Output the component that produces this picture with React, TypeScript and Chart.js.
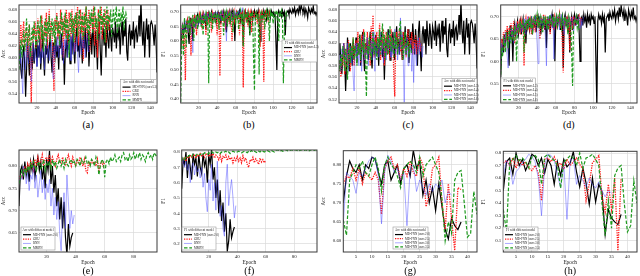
import React, { useEffect, useRef } from "react";
import { Chart, registerables } from "chart.js";
Chart.register(...registerables);

// ---------- data ----------
// (a)/(c) black: MD-FNN (ours L3) accuracy per epoch
const blackAcc = [
  .60,.62,.58,.565,.60,.62,.59,.535,.58,.63,.60,.57,.62,.60,.58,.625,.59,.61,.63,.585,
  .62,.60,.635,.58,.61,.64,.60,.57,.62,.605,.63,.59,.615,.64,.60,.575,.625,.61,.60,.635,
  .60,.62,.58,.63,.615,.64,.595,.62,.555,.61,.63,.60,.645,.62,.59,.635,.605,.64,.615,.59,
  .63,.65,.61,.625,.60,.645,.62,.59,.64,.615,.65,.60,.63,.645,.585,.62,.64,.605,.655,.63,
  .60,.645,.62,.58,.64,.66,.61,.57,.635,.65,.62,.645,.60,.66,.63,.615,.655,.635,.61,.65,
  .64,.625,.66,.615,.645,.635,.655,.605,.64,.66,.62,.65,.635,.665,.61,.595,.64,.655,.62,.645,
  .63,.66,.615,.645,.65,.625,.64,.67,.635,.695,.645,.62,.66,.60,.64,.665,.63,.655,.60,.655,
  .66,.655,.64,.62,.655,.63,.575,
];
const redAccA = [
  .60,.63,.655,.62,.645,.66,.61,.64,.65,.60,.63,.655,.58,.525,.62,.65,.635,.66,.615,.645,
  .665,.63,.65,.61,.67,.64,.62,.66,.635,.675,.615,.65,.68,.63,.66,.64,.60,.545,.665,.645,
  .675,.63,.66,.615,.68,.645,.665,.60,.67,.635,.68,.65,.62,.675,.655,.63,.68,.64,.665,.61,
  .675,.65,.685,.62,.66,.68,.64,.67,.595,.675,.65,.685,.63,.665,.68,.61,.66,.675,.645,.685,
  .62,.67,.655,.60,.68,.64,.665,.685,.63,.67,.65,.68,.625,.665,.68,.645,.67,
];
const blueAccA = [
  .61,.59,.62,.57,.54,.60,.615,.58,.625,.60,.59,.62,.605,.56,.61,.625,.595,.615,.60,.585,
  .62,.60,.63,.59,.615,.60,.625,.58,.61,.635,.60,.62,.595,.61,.63,.605,.565,.62,.60,.625,
  .61,.635,.60,.62,.64,.605,.625,.59,.63,.615,.64,.60,.625,.61,.635,.595,.62,.64,.605,.625,
  .61,.635,.60,.575,.62,.64,.605,.63,.615,.635,.60,.625,.64,.61,.63,
];
const greenAccA = [
  .58,.61,.63,.60,.625,.645,.61,.635,.665,.62,.64,.655,.60,.63,.65,.625,.66,.635,.615,.645,
  .66,.625,.65,.67,.63,.655,.61,.645,.665,.62,.66,.64,.67,.625,.65,.665,.635,.66,.62,.655,
  .67,.64,.66,.62,.655,.675,.635,.66,.645,.675,.63,.665,.65,.60,.66,.675,.64,.665,.625,.67,
  .655,.675,.635,.665,.68,.64,.66,.675,.63,.67,.655,.685,.645,.665,.62,.675,.655,.68,.64,.67,
  .685,.65,.665,.63,.675,.66,.685,.64,.67,.655,.68,.625,.665,.685,.645,.67,.66,.68,.635,.665,
  .68,.655,.67,.685,.64,.665,.68,.65,.675,.66,.685,.645,.67,.675,.665,
];

// (b)/(d) black: MD-FNN (ours L3) F1 per epoch
const blackF1 = [
  .565,.62,.65,.62,.66,.64,.655,.67,.63,.59,.68,.65,.665,.60,.67,.685,.655,.675,.69,.66,
  .675,.69,.66,.68,.695,.665,.685,.64,.69,.675,.695,.67,.685,.70,.66,.69,.68,.695,.665,.69,
  .70,.675,.69,.66,.695,.68,.70,.67,.69,.63,.695,.68,.70,.665,.69,.705,.675,.695,.60,.69,
  .70,.68,.695,.705,.67,.69,.70,.585,.695,.705,.68,.70,.665,.695,.62,.685,.70,.67,.695,.705,
  .68,.70,.69,.705,.67,.60,.695,.70,.68,.705,.69,.70,.675,.705,.69,.70,.68,.705,.695,.70,
  .685,.70,.60,.50,.69,.705,.695,.70,.685,.705,.69,.70,.62,.695,.70,.705,.69,.71,.70,.695,
  .71,.70,.715,.69,.705,.71,.695,.72,.70,.725,.71,.70,.715,.69,.71,.70,.68,.715,.705,.695,
  .71,.70,.72,.695,.70,.69,.70,
];
const redF1B = [
  .60,.64,.66,.58,.62,.465,.65,.67,.63,.66,.68,.55,.66,.675,.64,.69,.66,.62,.685,.67,
  .69,.66,.68,.64,.69,.67,.695,.62,.68,.70,.66,.69,.675,.63,.695,.68,.70,.665,.69,.62,
  .68,.70,.48,.66,.69,.70,.675,.695,.64,.70,.68,.695,.66,.70,.685,.60,.695,.705,.67,.69,
  .70,.68,.69,.62,.70,.685,.695,.44,.68,.70,.675,.695,.65,.70,.685,.70,.63,.695,.70,.68,
  .695,.70,.66,.69,.70,.58,.685,.70,.675,.46,.69,.70,.68,.695,.665,.70,.69,
];
const blueF1B = [
  .61,.64,.66,.63,.65,.67,.64,.66,.63,.675,.65,.66,.62,.56,.665,.68,.645,.67,.685,.655,
  .68,.66,.69,.665,.685,.695,.67,.69,.66,.695,.68,.70,.67,.69,.695,.68,.70,.665,.69,.70,
  .68,.695,.70,.67,.69,.705,.68,.695,.66,.60,.70,.685,.695,.705,.67,.69,.70,.68,.705,.69,
  .70,.685,.705,.69,.71,.70,.715,.70,
];
const greenF1B = [
  .39,.58,.66,.55,.68,.64,.58,.67,.65,.685,.62,.675,.66,.69,.60,.68,.665,.69,.64,.685,
  .67,.69,.65,.685,.62,.69,.675,.695,.66,.685,.455,.69,.675,.70,.64,.685,.695,.66,.69,.68,
  .695,.64,.69,.70,.67,.685,.62,.695,.68,.70,.65,.69,.70,.66,.695,.685,.63,.70,.69,.665,
  .695,.70,.64,.69,.705,.67,.695,.58,.70,.685,.695,.66,.70,.69,.62,.70,.685,.695,.55,.43,
  .69,.70,.675,.695,.485,.69,.70,.665,.695,.70,.64,.69,.705,.68,.695,.60,.70,.685,.70,.66,
  .695,.70,.68,.705,.69,.60,.70,.69,.705,.68,.455,.62,.69,.70,.685,
];

const redAccC = [
  .57,.59,.56,.60,.58,.62,.565,.60,.61,.58,.625,.595,.57,.615,.60,.63,.58,.61,.625,.59,
  .64,.60,.62,.585,.635,.61,.645,.59,.62,.60,.64,.605,.625,.58,.65,.61,.67,.595,.63,.615,
  .64,.60,.625,.655,.59,.63,.61,.645,.58,.62,.64,.60,.635,.615,.59,.645,.61,.63,.56,.525,
  .62,.64,.60,.63,.645,.605,.625,.59,.64,.61,.63,.595,.62,.645,.60,.63,.615,.64,.60,.625,
  .61,.635,.60,.625,.615,.63,.605,.62,
];
const blueAccC = [
  .58,.60,.57,.61,.595,.62,.58,.605,.59,.62,.57,.60,.615,.585,.61,.56,.535,.60,.62,.59,
  .61,.58,.625,.60,.57,.615,.635,.59,.61,.60,.63,.58,.615,.60,.625,.59,.64,.605,.57,.62,
  .60,.63,.595,.615,.64,.60,.62,.585,.63,.61,.59,.625,.605,.64,.615,.595,.63,.60,.62,.645,
  .60,.625,.59,.615,.60,.665,.61,.635,.59,.515,.62,.60,.63,.58,.615,.60,.625,.57,.61,.55,
  .62,.60,.58,.615,.63,.60,.62,.61,.595,.615,
];
const greenAccC = [
  .59,.57,.60,.58,.615,.60,.57,.61,.59,.555,.60,.62,.585,.61,.60,.63,.59,.615,.60,.58,
  .62,.60,.635,.59,.61,.625,.60,.64,.585,.525,.615,.60,.63,.605,.59,.62,.64,.60,.625,.61,
  .59,.63,.61,.645,.60,.625,.655,.61,.635,.59,.62,.64,.60,.625,.65,.605,.63,.615,.595,.64,
  .61,.63,.60,.625,.645,.66,.61,.63,.59,.62,.64,.60,.615,.625,.595,.62,.61,.60,
];

const redF1D = [
  .62,.65,.64,.665,.63,.67,.655,.68,.64,.675,.66,.685,.65,.67,.69,.64,.68,.665,.69,.67,
  .685,.66,.69,.675,.695,.59,.68,.695,.67,.69,.70,.675,.69,.66,.695,.68,.70,.665,.69,.705,
  .68,.695,.65,.70,.685,.69,.705,.67,.695,.685,.70,.675,.695,.66,.70,.685,.695,.67,.70,.69,
  .68,.70,.69,.705,.675,.695,.64,.575,.69,.70,.685,.695,.67,.70,.625,.69,.70,.68,.695,.685,
  .70,.68,.695,.69,.70,.685,.695,.69,
];
const blueF1D = [
  .60,.64,.62,.655,.64,.665,.63,.61,.585,.66,.645,.675,.655,.67,.64,.68,.665,.685,.66,.68,
  .67,.69,.665,.685,.67,.695,.68,.66,.69,.70,.675,.69,.68,.70,.665,.695,.685,.70,.675,.64,
  .595,.69,.70,.68,.695,.675,.70,.685,.65,.59,.695,.70,.68,.69,.705,.675,.695,.605,.69,.70,
  .68,.695,.70,.67,.69,.705,.68,.695,.66,.70,.685,.695,.675,.70,.69,.68,.695,.70,.665,.69,
  .70,.68,.695,.69,.70,.675,.695,.68,.69,.70,
];
const greenF1D = [
  .57,.63,.61,.65,.64,.62,.665,.65,.63,.67,.655,.64,.675,.66,.645,.68,.665,.60,.675,.685,
  .665,.69,.675,.68,.695,.62,.685,.69,.67,.695,.68,.70,.675,.69,.66,.695,.70,.68,.69,.705,
  .675,.695,.68,.70,.69,.665,.70,.685,.695,.68,.70,.67,.695,.705,.68,.69,.70,.675,.695,.685,
  .70,.68,.695,.705,.69,.675,.70,.685,.695,.70,.68,.695,.66,.70,.69,.685,.62,.545,.68,.695,
  .69,.70,.675,.69,.67,
];

const blackAccE = [
  .71,.79,.80,.77,.81,.78,.80,.765,.81,.79,.815,.775,.80,.82,.79,.81,.77,.80,.75,.815,
  .79,.834,.76,.80,.74,.78,.71,.75,.68,.73,.66,.72,.64,.60,.67,.62,.64,.65,
];
const redAccE = [
  .77,.78,.775,.79,.80,.785,.805,.795,.81,.80,.79,.815,.80,.82,.805,.81,.825,.80,.815,.82,
  .81,.825,.805,.82,.81,.80,.815,.825,.81,.805,.82,.81,.80,.815,.825,.81,.80,.82,.81,.80,
  .815,.805,.82,.81,.80,.815,.79,.785,.81,.80,.815,.805,.81,.80,.815,.79,.805,.81,.80,.81,
];
const blueAccE = [
  .76,.78,.77,.80,.79,.76,.785,.745,.78,.77,.80,.75,.78,.73,.76,.79,.74,.77,.725,.76,
  .74,.77,.71,.75,.69,.73,.68,.72,.65,.61,.70,.74,.66,.78,.72,.66,.70,.67,.69,
];
const greenAccE = [
  .76,.775,.79,.78,.795,.785,.80,.79,.805,.795,.81,.80,.79,.805,.81,.795,.80,.815,.79,.805,
  .80,.81,.795,.815,.80,.81,.795,.805,.815,.80,.81,.795,.815,.805,.80,.81,.815,.805,.81,.80,
  .815,.81,.80,.815,.805,.81,.82,.805,.81,.80,.815,.81,.80,.82,.81,.78,.80,.815,.81,.775,
  .81,.815,.805,.82,.81,.815,.825,.81,.815,.82,.81,.825,.83,.815,.82,.81,.825,.815,.82,.83,
  .815,.825,.82,.83,.815,.825,.82,.81,.825,.83,.82,.825,.815,.83,.825,.82,
];

const blackF1F = [
  .56,.75,.72,.80,.63,.78,.70,.62,.79,.72,.76,.64,.78,.70,.66,.79,.71,.75,.60,.78,
  .72,.82,.62,.70,.50,.62,.40,.55,.35,.47,.28,.40,.15,.22,.36,.24,.28,.31,
];
const redF1F = [
  .73,.75,.76,.74,.77,.76,.78,.765,.77,.785,.76,.78,.77,.79,.775,.78,.765,.79,.78,.77,
  .785,.775,.79,.76,.78,.77,.75,.78,.74,.77,.76,.78,.745,.77,.75,.765,.73,.76,.745,.77,
  .74,.76,.73,.775,.745,.76,.72,.70,.75,.74,.765,.73,.755,.74,.72,.76,.735,.75,.73,.745,
];
const blueF1F = [
  .72,.75,.70,.74,.68,.72,.60,.70,.73,.65,.71,.67,.69,.63,.70,.57,.66,.50,.41,.62,
  .55,.72,.48,.60,.42,.74,.50,.38,.45,.30,.25,.60,.72,.45,.55,.62,.50,.37,.45,
];
const greenF1F = [
  .74,.76,.75,.77,.765,.775,.78,.77,.785,.78,.775,.79,.785,.78,.79,.785,.795,.79,.785,.795,
  .79,.80,.795,.79,.80,.795,.80,.79,.80,.795,.80,.805,.795,.80,.79,.80,.805,.80,.795,.80,
  .805,.80,.795,.80,.805,.80,.795,.805,.80,.81,.80,.805,.80,.795,.805,.80,.81,.805,.80,.805,
  .81,.805,.80,.81,.805,.80,.81,.815,.81,.805,.81,.805,.81,.815,.81,.805,.81,.815,.81,.81,
  .815,.81,.805,.81,.815,.81,.81,.815,.81,.805,.81,.815,.81,.81,.815,.81,
];

const blackAccG = [
  .70,.77,.81,.79,.78,.80,.76,.80,.79,.82,.815,.78,.75,.80,.81,.76,.78,.80,.75,.79,
  .80,.77,.838,.79,.81,.72,.76,.70,.74,.68,.75,.69,.63,.605,.66,.64,.63,.65,
];
const redAccG = [
  .75,.77,.765,.79,.76,.79,.75,.78,.77,.76,.78,.76,.67,.79,.81,.82,.79,.80,.76,.79,
  .77,.81,.78,.77,.82,.80,.69,.72,.79,.80,.82,.70,.63,.75,.66,.575,.74,.735,
];
const blueAccG = [
  .645,.78,.77,.76,.725,.78,.77,.79,.81,.82,.815,.77,.645,.78,.825,.81,.78,.79,.76,.78,
  .64,.79,.80,.73,.76,.74,.72,.75,.73,.75,.74,.76,.70,.73,.72,
];
const greenAccG = [
  .655,.615,.76,.78,.80,.79,.81,.78,.77,.80,.82,.79,.73,.80,.82,.80,.79,.77,.74,.79,
  .80,.81,.80,.78,.82,.77,.80,.81,.82,.80,.78,.71,.60,.65,.62,.76,.78,.785,.70,.61,
  .62,.73,.67,
];

const blackF1H = [
  .50,.73,.76,.63,.80,.70,.75,.66,.72,.79,.77,.70,.76,.64,.75,.70,.55,.73,.62,.75,
  .69,.72,.81,.65,.53,.68,.56,.39,.60,.41,.55,.49,.15,.35,.28,.25,.23,.31,
];
const redF1H = [
  .72,.74,.70,.76,.68,.75,.70,.73,.68,.66,.70,.64,.42,.75,.76,.73,.77,.70,.72,.67,
  .75,.70,.73,.76,.71,.67,.42,.55,.72,.75,.78,.45,.33,.55,.35,.60,.02,.60,
];
const blueF1H = [
  .62,.74,.70,.55,.65,.68,.72,.75,.79,.77,.73,.60,.30,.70,.79,.78,.74,.63,.52,.72,
  .27,.74,.76,.55,.62,.58,.53,.60,.55,.52,.57,.50,.45,.50,.48,
];
const greenF1H = [
  .35,.17,.72,.75,.78,.74,.76,.73,.68,.77,.78,.75,.55,.77,.79,.76,.74,.70,.52,.73,
  .75,.78,.76,.70,.80,.68,.76,.77,.79,.75,.70,.40,.14,.42,.20,.62,.68,.70,.40,.17,
  .22,.58,.40,
];

// ---------- ticks & labels ----------
const epochTicksLong = [20, 40, 60, 80, 100, 120, 140];
const epochTicksMid = [20, 40, 60, 80];
const epochTicksShort = [5, 10, 15, 20, 25, 30, 35, 40];
const accTicksA = [0.54, 0.56, 0.58, 0.60, 0.62, 0.64, 0.66, 0.68];
const f1TicksB = [0.40, 0.45, 0.50, 0.55, 0.60, 0.65, 0.70];
const accTicksC = [0.52, 0.54, 0.56, 0.58, 0.60, 0.62, 0.64, 0.66, 0.68];
const f1TicksD = [0.55, 0.60, 0.65, 0.70];
const accTicksE = [0.65, 0.70, 0.75, 0.80];
const f1TicksF = [0.2, 0.3, 0.4, 0.5, 0.6, 0.7, 0.8];
const accTicksG = [0.60, 0.65, 0.70, 0.75, 0.80];
const f1TicksH = [0.1, 0.2, 0.3, 0.4, 0.5, 0.6, 0.7, 0.8];

const modelLabels = ["MD-FNN (ours L3)", "GRU", "RNN", "MMPN"];
const layerLabels = ["MD-FNN (ours L3)", "MD-FNN (ours L4)", "MD-FNN (ours L5)", "MD-FNN (ours L6)"];
const modelLabelsE = ["MD-FNN (ours 2.0)", "GRU", "RNN", "MMPN"];
const rateLabels = ["MD-FNN (ours 2.0)", "MD-FNN (ours 2.5)", "MD-FNN (ours 3.0)", "MD-FNN (ours 3.5)"];
const accTitle = "Acc with different model";
const f1Title = "F1 with different model";

// ---------- styling ----------
const FONT = "'Liberation Serif', 'DejaVu Serif', serif";
const STYLES = [
  { color: "#000000", width: 1.2, dash: [] as number[] },
  { color: "#ff1a1a", width: 1.3, dash: [1.3, 1.1] },
  { color: "rgba(70,70,255,0.55)", width: 0.85, dash: [] as number[] },
  { color: "#1e9a1e", width: 1.2, dash: [3.5, 1.8] },
];

type Legend = { x: number; y: number; w: number; h: number; title: string; labels: string[] };
type Cfg = {
  caption: string;
  row: number;
  col: number;
  series: number[][];
  yMin: number;
  yMax: number;
  yTicks: number[];
  yDec: number;
  yTitle: string;
  xMax: number;
  xTicks: number[];
  plot: { left: number; right: number; top: number; bottom: number };
  legend: Legend;
};

const PANELS: Cfg[] = [
  { caption: "(a)", row: 0, col: 0, series: [blackAcc, redAccA, blueAccA, greenAccA], yMin: 0.5244, yMax: 0.6876, yTicks: accTicksA, yDec: 2, yTitle: "Acc", xMax: 147, xTicks: epochTicksLong, plot: { left: 19, right: 157, top: 2, bottom: 103 }, legend: { x: 120.5, y: 79.5, w: 36, h: 22.5, title: accTitle, labels: modelLabels } },
  { caption: "(b)", row: 0, col: 1, series: [blackF1, redF1B, blueF1B, greenF1B], yMin: 0.3866, yMax: 0.7244, yTicks: f1TicksB, yDec: 2, yTitle: "F1", xMax: 147, xTicks: epochTicksLong, plot: { left: 20.7, right: 157, top: 1.7, bottom: 103 }, legend: { x: 122, y: 40, w: 35, h: 22, title: f1Title, labels: modelLabels } },
  { caption: "(c)", row: 0, col: 2, series: [blackAcc, redAccC, blueAccC, greenAccC], yMin: 0.5136, yMax: 0.6881, yTicks: accTicksC, yDec: 2, yTitle: "Acc", xMax: 147, xTicks: epochTicksLong, plot: { left: 19, right: 157, top: 2, bottom: 103 }, legend: { x: 122, y: 78.5, w: 35, h: 23, title: accTitle, labels: layerLabels } },
  { caption: "(d)", row: 0, col: 3, series: [blackF1, redF1D, blueF1D, greenF1D], yMin: 0.507, yMax: 0.726, yTicks: f1TicksD, yDec: 2, yTitle: "F1", xMax: 147, xTicks: epochTicksLong, plot: { left: 20.7, right: 157, top: 2, bottom: 103 }, legend: { x: 21, y: 78, w: 34.5, h: 24, title: f1Title, labels: layerLabels } },
  { caption: "(e)", row: 1, col: 0, series: [blackAccE, redAccE, blueAccE, greenAccE], yMin: 0.607, yMax: 0.836, yTicks: accTicksE, yDec: 2, yTitle: "Acc", xMax: 96, xTicks: epochTicksMid, plot: { left: 19, right: 157, top: 12, bottom: 114 }, legend: { x: 21, y: 89, w: 34, h: 23, title: accTitle, labels: modelLabelsE } },
  { caption: "(f)", row: 1, col: 1, series: [blackF1F, redF1F, blueF1F, greenF1F], yMin: 0.147, yMax: 0.813, yTicks: f1TicksF, yDec: 1, yTitle: "F1", xMax: 96, xTicks: epochTicksMid, plot: { left: 21.7, right: 157, top: 12, bottom: 114 }, legend: { x: 22, y: 89, w: 34, h: 23, title: f1Title, labels: modelLabelsE } },
  { caption: "(g)", row: 1, col: 2, series: [blackAccG, redAccG, blueAccG, greenAccG], yMin: 0.571, yMax: 0.837, yTicks: accTicksG, yDec: 2, yTitle: "Acc", xMax: 43, xTicks: epochTicksShort, plot: { left: 23.3, right: 157, top: 12.7, bottom: 114 }, legend: { x: 73, y: 89, w: 35, h: 22, title: accTitle, labels: rateLabels } },
  { caption: "(h)", row: 1, col: 3, series: [blackF1H, redF1H, blueF1H, greenF1H], yMin: 0.0098, yMax: 0.8136, yTicks: f1TicksH, yDec: 1, yTitle: "F1", xMax: 43, xTicks: epochTicksShort, plot: { left: 23.3, right: 157, top: 13.3, bottom: 114 }, legend: { x: 23, y: 89, w: 35, h: 23, title: f1Title, labels: rateLabels } },
];

const PANEL_W = 160;
const ROW_TOP = [0, 138];
const AXIS_H = [13, 14];
const CAPTION_Y = [125, 271];

function makeFrameLegend(lg: Legend) {
  return {
    id: "frameLegend",
    afterDatasetsDraw(chart: any) {
      const { ctx, chartArea: a } = chart;
      ctx.save();
      ctx.setLineDash([]);
      ctx.strokeStyle = "#3a3a3a";
      ctx.lineWidth = 1;
      ctx.strokeRect(a.left, a.top, a.right - a.left, a.bottom - a.top);
      // legend box
      ctx.fillStyle = "rgba(255,255,255,0.93)";
      ctx.fillRect(lg.x, lg.y, lg.w, lg.h);
      ctx.strokeStyle = "#9a9a9a";
      ctx.lineWidth = 0.6;
      ctx.strokeRect(lg.x, lg.y, lg.w, lg.h);
      ctx.fillStyle = "#222";
      ctx.textBaseline = "middle";
      ctx.textAlign = "center";
      ctx.font = `3.1px ${FONT}`;
      ctx.fillText(lg.title, lg.x + lg.w / 2, lg.y + 2.8);
      ctx.textAlign = "left";
      const step = (lg.h - 5.5) / 4;
      lg.labels.forEach((t, i) => {
        const yy = lg.y + 5.5 + step * (i + 0.5);
        const st = STYLES[i];
        ctx.strokeStyle = st.color;
        ctx.lineWidth = st.width;
        ctx.setLineDash(st.dash);
        ctx.beginPath();
        ctx.moveTo(lg.x + 2, yy);
        ctx.lineTo(lg.x + 10, yy);
        ctx.stroke();
        ctx.setLineDash([]);
        ctx.fillStyle = "#222";
        ctx.fillText(t, lg.x + 12, yy);
      });
      ctx.restore();
    },
  };
}

function Panel({ cfg }: { cfg: Cfg }) {
  const ref = useRef<HTMLCanvasElement>(null);
  const canvasH = cfg.plot.bottom + AXIS_H[cfg.row];
  useEffect(() => {
    const tickFont = { family: FONT, size: 4.9 };
    const titleFont = { family: FONT, size: 5.3 };
    const chart = new Chart(ref.current!, {
      type: "line",
      data: {
        datasets: cfg.series.map((s, i) => ({
          data: s.map((v, j) => ({ x: j + 1, y: v })),
          borderColor: STYLES[i].color,
          borderWidth: STYLES[i].width,
          borderDash: STYLES[i].dash,
          pointRadius: 0,
          tension: 0,
          fill: false,
          order: 4 - i,
        })),
      },
      options: {
        animation: false,
        responsive: false,
        maintainAspectRatio: false,
        events: [],
        layout: { padding: { top: cfg.plot.top, right: PANEL_W - cfg.plot.right, left: 0, bottom: 0 } },
        plugins: { legend: { display: false }, tooltip: { enabled: false } },
        scales: {
          x: {
            type: "linear",
            min: 1,
            max: cfg.xMax,
            afterBuildTicks: (ax: any) => {
              ax.ticks = cfg.xTicks.map((v) => ({ value: v }));
            },
            afterFit: (ax: any) => {
              ax.height = canvasH - cfg.plot.bottom;
            },
            grid: { color: "#dadada", lineWidth: 0.7, drawTicks: false },
            border: { display: false },
            ticks: { font: tickFont, color: "#222", padding: 2, maxRotation: 0, autoSkip: false },
            title: { display: true, text: "Epoch", font: titleFont, color: "#111", padding: { top: 0, bottom: 0 } },
          },
          y: {
            type: "linear",
            min: cfg.yMin,
            max: cfg.yMax,
            afterBuildTicks: (ax: any) => {
              ax.ticks = cfg.yTicks.map((v) => ({ value: v }));
            },
            afterFit: (ax: any) => {
              ax.width = cfg.plot.left;
            },
            grid: { color: "#dadada", lineWidth: 0.7, drawTicks: false },
            border: { display: false },
            ticks: {
              font: tickFont,
              color: "#222",
              padding: 2,
              autoSkip: false,
              callback: (v: any) => Number(v).toFixed(cfg.yDec),
            },
            title: { display: true, text: cfg.yTitle, font: titleFont, color: "#111", padding: { top: 0, bottom: 0 } },
          },
        },
      },
      plugins: [makeFrameLegend(cfg.legend)],
    } as any);
    return () => chart.destroy();
  }, []);
  const left = cfg.col * PANEL_W;
  return (
    <>
      <canvas
        ref={ref}
        width={PANEL_W}
        height={canvasH}
        style={{ position: "absolute", left, top: ROW_TOP[cfg.row], width: PANEL_W, height: canvasH }}
      />
      <div
        style={{
          position: "absolute",
          left: left + cfg.plot.left,
          width: cfg.plot.right - cfg.plot.left,
          top: CAPTION_Y[cfg.row] - 7,
          height: 14,
          lineHeight: "14px",
          textAlign: "center",
          fontFamily: FONT,
          fontSize: 10,
          color: "#000",
        }}
      >
        {cfg.caption}
      </div>
    </>
  );
}

export default function App() {
  return (
    <div style={{ position: "fixed", left: 0, top: 0, width: 640, height: 276, background: "#fff", overflow: "hidden" }}>
      {PANELS.map((p) => (
        <Panel key={p.caption} cfg={p} />
      ))}
    </div>
  );
}
